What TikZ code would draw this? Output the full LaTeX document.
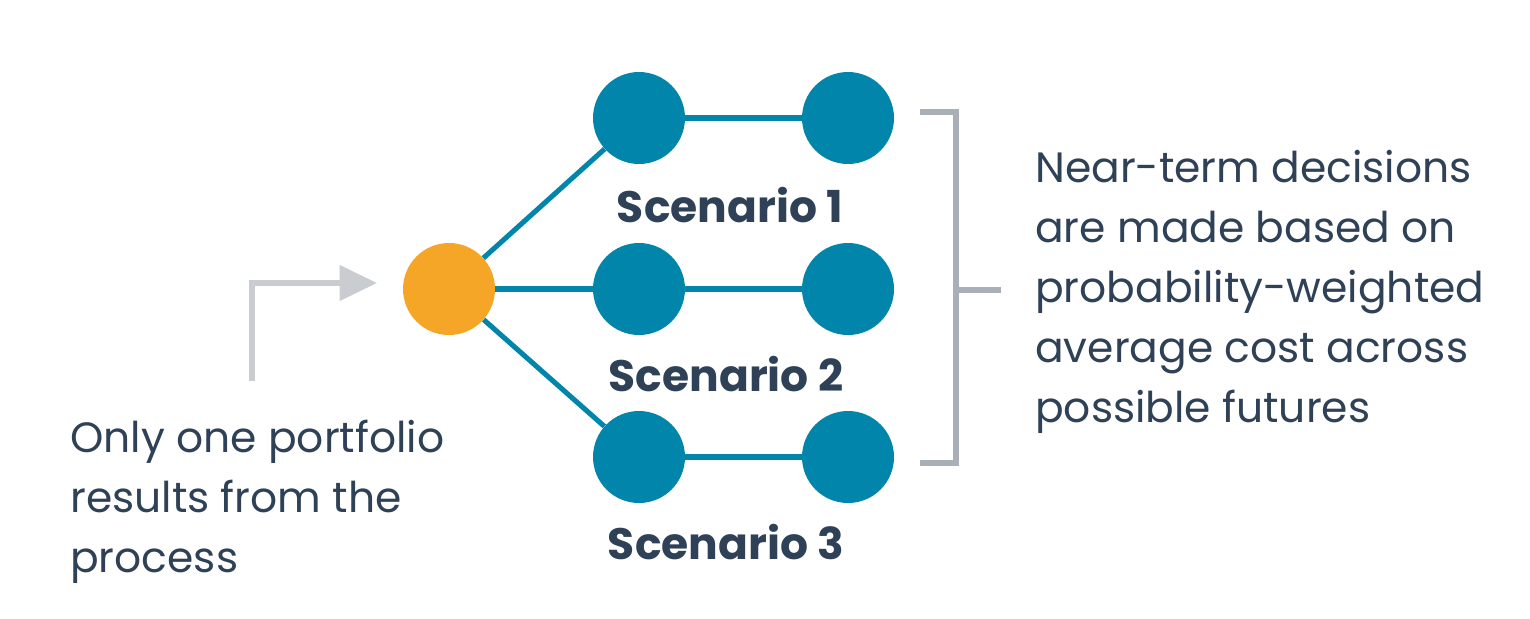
\documentclass[tikz,border=0pt]{standalone}
\usepackage{fontspec}
\setmainfont{Poppins}
\usetikzlibrary{arrows.meta}
\definecolor{blu}{HTML}{0285AA}
\definecolor{org}{HTML}{F6A627}
\definecolor{txt}{HTML}{2F4156}
\definecolor{brk}{HTML}{A9AFB6}
\definecolor{arr}{HTML}{C9CDD2}
\begin{document}
\begin{tikzpicture}[x=0.75pt,y=-0.75pt,
 bc/.style={circle,fill=blu,minimum size=69pt,inner sep=0},
 oc/.style={circle,fill=org,minimum size=69pt,inner sep=0},
 ln/.style={blu,line width=3.8pt},
 sc/.style={font=\fontsize{33}{40}\selectfont\bfseries,text=txt},
 tx/.style={font=\fontsize{31.8}{45}\selectfont,text=txt,align=left,anchor=north west,inner sep=0}]
\useasboundingbox (0,0) rectangle (1530,618);
\node[oc] (o) at (449,289) {};
\node[bc] (a1) at (639,118) {};
\node[bc] (a2) at (848,118) {};
\node[bc] (b1) at (639,289) {};
\node[bc] (b2) at (848,289) {};
\node[bc] (c1) at (639,457) {};
\node[bc] (c2) at (848,457) {};
\draw[ln] (o) -- (a1); \draw[ln] (o) -- (b1); \draw[ln] (o) -- (c1);
\draw[ln] (a1) -- (a2); \draw[ln] (b1) -- (b2); \draw[ln] (c1) -- (c2);
\node[sc] (s1) at (730,205) {Scenario 1};
\node[sc] (s2) at (726,374) {Scenario 2};
\node[sc] (s3) at (726,542) {Scenario 3};
\coordinate (ab) at (252,381);
\coordinate (ae) at (377,283);
\draw[arr,line width=4pt,-{Triangle[length=28pt,width=26pt]}] (ab) |- (ae);
\coordinate (k1) at (920,112); \coordinate (k2) at (920,463);
\coordinate (km) at (956,290); \coordinate (kt) at (1001,290);
\draw[brk,line width=4pt] (k1) -| (956,463) -- (k2);
\draw[brk,line width=4pt] (km) -- (kt);
\node[tx] (lt) at (70,420) {Only one portfolio\\results from the\\process};
\node[tx] (rt) at (1035,150) {Near-term decisions\\are made based on\\probability-weighted\\average cost across\\possible futures};
\end{tikzpicture}
\end{document}
